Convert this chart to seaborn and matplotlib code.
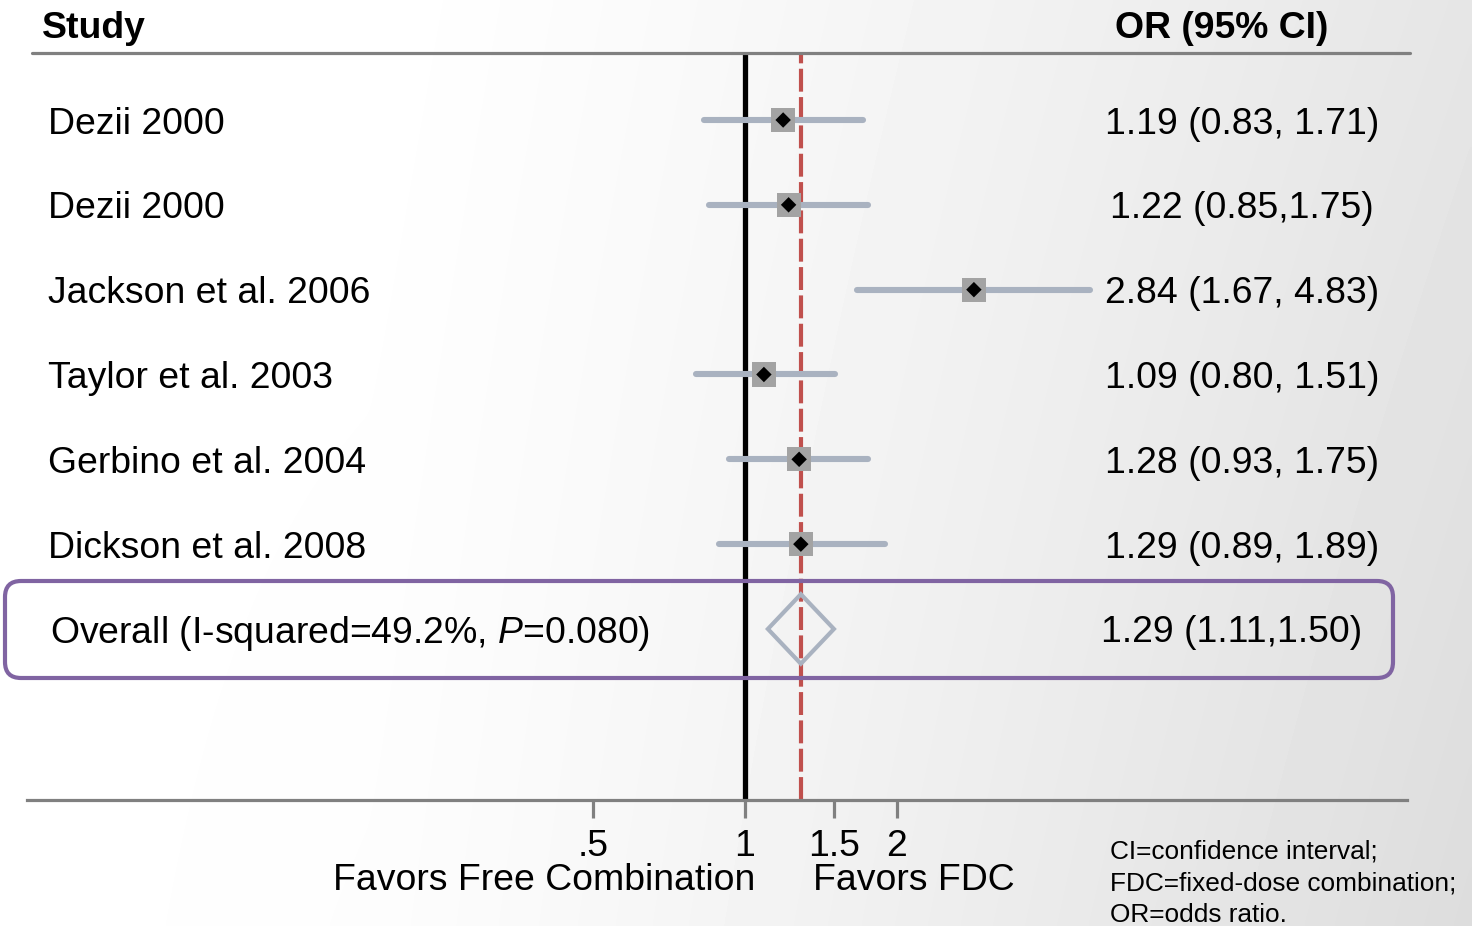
import numpy as np
import pandas as pd
import seaborn as sns
import matplotlib
matplotlib.use("Agg")
import matplotlib.pyplot as plt
import matplotlib.transforms as mtransforms
from matplotlib.patches import FancyBboxPatch

# Study-level odds ratios with 95% confidence limits
studies = ["Dezii 2000", "Dezii 2000", "Jackson et al. 2006", "Taylor et al. 2003",
           "Gerbino et al. 2004", "Dickson et al. 2008"]
odds_ratio = [1.19, 1.22, 2.84, 1.09, 1.28, 1.29]
ci_low = [0.83, 0.85, 1.67, 0.80, 0.93, 0.89]
ci_high = [1.71, 1.75, 4.83, 1.51, 1.75, 1.89]
or_labels = ["1.19 (0.83, 1.71)", "1.22 (0.85,1.75)", "2.84 (1.67, 4.83)",
             "1.09 (0.80, 1.51)", "1.28 (0.93, 1.75)", "1.29 (0.89, 1.89)"]

# Pooled estimate
overall_label = "Overall (I-squared=49.2%, $\\mathit{P}$=0.080)"
overall_or = 1.29
overall_low = 1.11
overall_high = 1.50
overall_text = "1.29 (1.11,1.50)"

tick_values = [0.5, 1, 1.5, 2]
tick_labels = [".5", "1", "1.5", "2"]

sns.set_theme(style="white")
plt.rcParams["font.family"] = ["Liberation Sans", "DejaVu Sans"]
plt.rcParams["text.color"] = "black"
plt.rcParams["mathtext.fontset"] = "custom"
plt.rcParams["mathtext.rm"] = "Liberation Sans"
plt.rcParams["mathtext.it"] = "Liberation Sans:italic"

W, H = 1472, 926
fig = plt.figure(figsize=(W / 100, H / 100), dpi=100)

# soft grey gradient backdrop
bg = fig.add_axes([0, 0, 1, 1], zorder=0)
gx = np.linspace(0, 1, 400)
gy = np.linspace(0, 1, 250)
GX, GY = np.meshgrid(gx, gy)
shade = 1.0 - 0.10 * np.clip((GX - 0.25) / 0.75, 0, 1) ** 1.2 - 0.035 * GY * GX
bg.imshow(shade, cmap="gray", vmin=0, vmax=1, aspect="auto",
          extent=[0, 1, 1, 0], interpolation="bicubic")
bg.set_axis_off()

# pixel-space helper (origin top-left)
pxT = mtransforms.Affine2D().scale(1 / W, -1 / H).translate(0, 1) + fig.transFigure

x_left, x_right = 27, 1407
y_top, y_axis = 53, 800
ax = fig.add_axes([x_left / W, (H - y_axis) / H, (x_right - x_left) / W,
                   (y_axis - y_top) / H], zorder=1)
ax.set_facecolor("none")
ax.set_xscale("log", base=2)
ppu = 152.0   # pixels per doubling
x_one = 745.0
ax.set_xlim(2 ** ((x_left - x_one) / ppu), 2 ** ((x_right - x_one) / ppu))
row_gap = 84.83
row0 = 120.0
ax.set_ylim((y_axis - row0) / row_gap, (y_top - row0) / row_gap)

rows = np.arange(len(studies))
df = pd.DataFrame({"study": studies, "or": odds_ratio, "lo": ci_low,
                   "hi": ci_high, "row": rows})

# reference lines
ax.axvline(1, color="black", lw=3.8, zorder=2)
ax.axvline(overall_or, color="#c0504d", lw=3.0, dashes=(5.5, 1.3), zorder=2)

# confidence intervals
lc = ax.hlines(df["row"], df["lo"], df["hi"], color="#a9b2c0", lw=4.4, zorder=3)
lc.set_capstyle("round")

# study weights (grey squares) and point estimates
sns.scatterplot(data=df, x="or", y="row", marker="s", s=300, color="#a3a3a3",
                edgecolor="none", ax=ax, legend=False, zorder=4)
sns.scatterplot(data=df, x="or", y="row", marker="D", s=62, color="black",
                edgecolor="none", ax=ax, legend=False, zorder=5)

# pooled diamond
r_all = len(studies)
half_h = 0.41
ax.fill([overall_low, overall_or, overall_high, overall_or],
        [r_all, r_all - half_h, r_all, r_all + half_h],
        facecolor="none", edgecolor="#a9b2c0", lw=3.0, zorder=4,
        joinstyle="miter")

# axis styling
for side in ["top", "left", "right"]:
    ax.spines[side].set_visible(False)
ax.spines["bottom"].set_color("#808080")
ax.spines["bottom"].set_linewidth(2.3)
ax.set_xticks(tick_values)
ax.set_xticklabels(tick_labels)
ax.xaxis.set_minor_locator(plt.NullLocator())
ax.tick_params(axis="x", direction="out", length=13, width=2.3, color="#808080",
               pad=8, labelsize=26.9, labelcolor="black", bottom=True)
ax.set_yticks([])
ax.set_xlabel("")
ax.set_ylabel("")

# header rule
ax.plot([32, 1410], [53, 53], color="#808080", lw=2.3, transform=pxT,
        clip_on=False, zorder=2)

fs = 26.9
rowT = mtransforms.blended_transform_factory(pxT, ax.transData)
fig.text(42, 25, "Study", fontsize=fs, fontweight="bold", transform=pxT,
         ha="left", va="center_baseline")
fig.text(1222, 25, "OR (95% CI)", fontsize=fs, fontweight="bold", transform=pxT,
         ha="center", va="center_baseline")

for r, name, lab in zip(rows, studies, or_labels):
    ax.text(48, r, name, fontsize=fs, transform=rowT, ha="left",
            va="center_baseline", clip_on=False)
    ax.text(1242, r, lab, fontsize=fs, transform=rowT, ha="center",
            va="center_baseline", clip_on=False)

ax.text(50, r_all, overall_label, fontsize=fs, transform=rowT, ha="left",
        va="center_baseline", clip_on=False)
ax.text(1232, r_all, overall_text, fontsize=fs, transform=rowT, ha="center",
        va="center_baseline", clip_on=False)

# highlight around pooled row
box = FancyBboxPatch((5, 926 - 678), 1388, 97,
                     boxstyle="round,pad=0,rounding_size=16",
                     transform=mtransforms.IdentityTransform(),
                     facecolor="none", edgecolor="#8064a2", lw=3.0, zorder=6)
fig.patches.append(box)

# direction labels
fig.text(755, 876, "Favors Free Combination", fontsize=fs, transform=pxT,
         ha="right", va="center_baseline")
fig.text(813, 876, "Favors FDC", fontsize=fs, transform=pxT,
         ha="left", va="center_baseline")

# footnote
for yy, line in zip([849, 881, 912], ["CI=confidence interval;",
                                      "FDC=fixed-dose combination;",
                                      "OR=odds ratio."]):
    fig.text(1110, yy, line, fontsize=18.9, transform=pxT, ha="left",
             va="center_baseline")

fig.savefig("out.png", dpi=100)
